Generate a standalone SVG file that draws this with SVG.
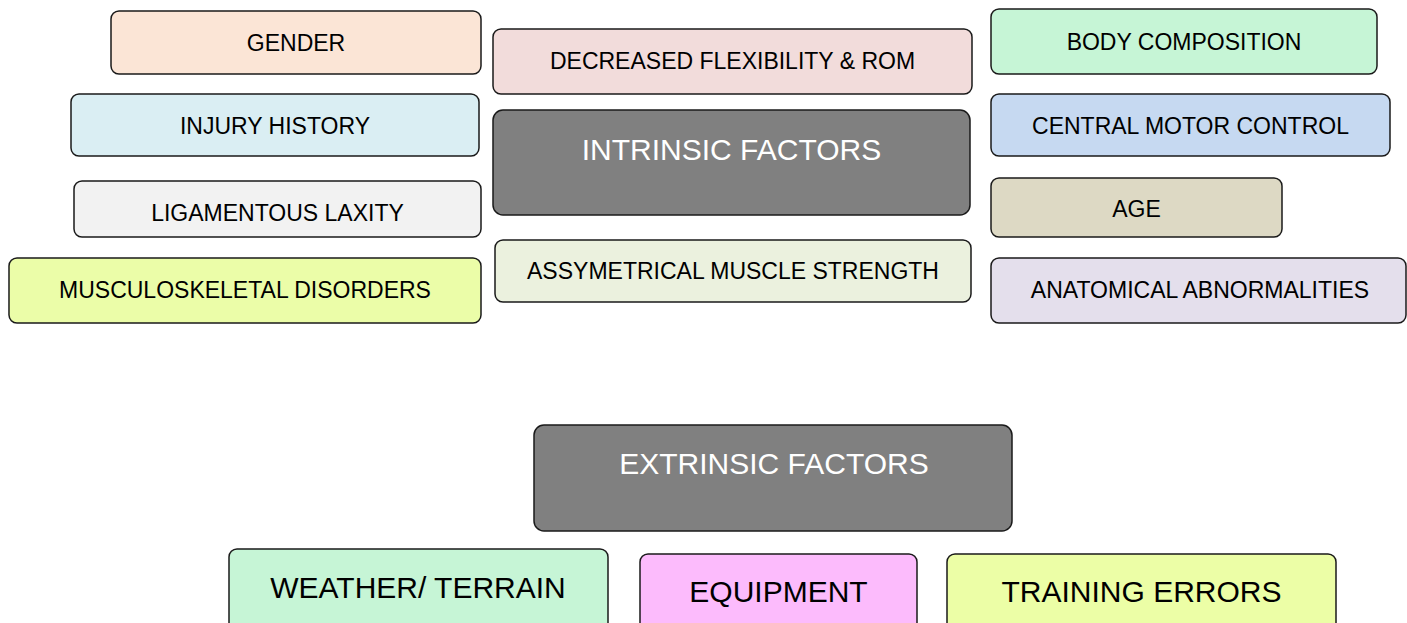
<svg xmlns="http://www.w3.org/2000/svg" width="1407" height="623" viewBox="0 0 1407 623">
<style>
.b{stroke:#1a1a1a;stroke-width:1.5}
.t{font-family:"Liberation Sans",Arial,sans-serif;font-size:23px;fill:#000;text-anchor:middle}
.h{font-family:"Liberation Sans",Arial,sans-serif;font-size:30px;fill:#fff;text-anchor:middle}
.L{font-family:"Liberation Sans",Arial,sans-serif;font-size:30px;fill:#000;text-anchor:middle}
</style>
<rect width="1407" height="623" fill="#fff"/>
<g id="connectors"/>
<g id="gender"><rect class="b" x="111" y="11" width="370" height="63" rx="8" fill="#FBE5D6"/><text class="t" x="296" y="51">GENDER</text></g>
<g id="injury"><rect class="b" x="71" y="94" width="408" height="62" rx="8" fill="#DAEEF3"/><text class="t" x="275" y="134">INJURY HISTORY</text></g>
<g id="ligament"><rect class="b" x="74" y="181" width="407" height="56" rx="8" fill="#F2F2F2"/><text class="t" x="277.5" y="221">LIGAMENTOUS LAXITY</text></g>
<g id="musculo"><rect class="b" x="9" y="258" width="472" height="65" rx="8" fill="#EBFDA8"/><text class="t" x="245" y="298">MUSCULOSKELETAL DISORDERS</text></g>
<g id="flex"><rect class="b" x="493" y="29" width="479" height="65" rx="8" fill="#F2DCDB"/><text class="t" x="732.5" y="69">DECREASED FLEXIBILITY &amp; ROM</text></g>
<g id="intrinsic"><rect class="b" x="493" y="110" width="477" height="105" rx="10" fill="#808080"/><text class="h" x="731.5" y="160">INTRINSIC FACTORS</text></g>
<g id="asym"><rect class="b" x="495" y="240" width="476" height="62" rx="8" fill="#EBF1DE"/><text class="t" x="733" y="279">ASSYMETRICAL MUSCLE STRENGTH</text></g>
<g id="body"><rect class="b" x="991" y="9" width="386" height="65" rx="8" fill="#C6F5D6"/><text class="t" x="1184" y="50">BODY COMPOSITION</text></g>
<g id="motor"><rect class="b" x="991" y="94" width="399" height="62" rx="8" fill="#C6D9F1"/><text class="t" x="1190.5" y="133.5">CENTRAL MOTOR CONTROL</text></g>
<g id="age"><rect class="b" x="991" y="178" width="291" height="59" rx="8" fill="#DDD9C4"/><text class="t" x="1136.5" y="217">AGE</text></g>
<g id="anatomical"><rect class="b" x="991" y="258" width="415" height="65" rx="8" fill="#E4DFEC"/><text class="t" x="1200" y="298">ANATOMICAL ABNORMALITIES</text></g>
<g id="extrinsic"><rect class="b" x="534" y="425" width="478" height="106" rx="10" fill="#808080"/><text class="h" x="774" y="474">EXTRINSIC FACTORS</text></g>
<g id="weather"><rect class="b" x="229" y="549" width="379" height="100" rx="8" fill="#C6F5D6"/><text class="L" x="418" y="598">WEATHER/ TERRAIN</text></g>
<g id="equipment"><rect class="b" x="640" y="554" width="277" height="100" rx="8" fill="#FCBBFC"/><text class="L" x="778.5" y="602">EQUIPMENT</text></g>
<g id="training"><rect class="b" x="947" y="554" width="389" height="100" rx="8" fill="#ECFEA6"/><text class="L" x="1141.5" y="602">TRAINING ERRORS</text></g>
</svg>
